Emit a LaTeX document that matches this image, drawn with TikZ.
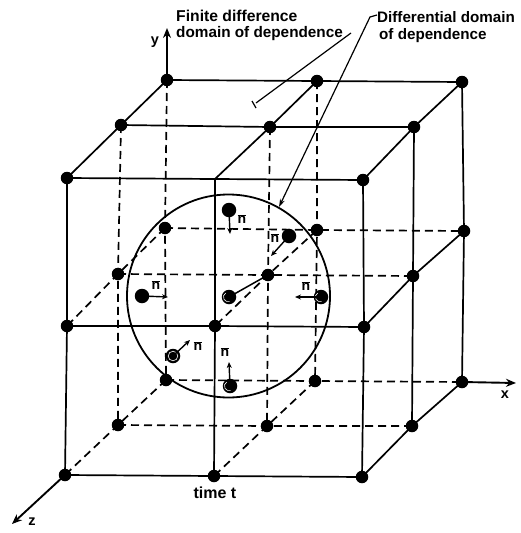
\documentclass[tikz,border=0pt]{standalone}
\usepackage{fontspec}
\setmainfont{Liberation Sans}
\usetikzlibrary{arrows.meta}
\newcommand{\nbar}{$\overline{\hbox{n}}$}
\tikzset{
  x=1pt,y=-1pt,
  gridline/.style={line width=1.7pt,line cap=round},
  hidden/.style={line width=1.7pt,dash pattern=on 8pt off 5pt},
  pointer/.style={line width=1.2pt},
  dot/.style={circle,fill=black,inner sep=0pt,minimum size=12.5pt},
  axis/.style={line width=1.9pt,-{Stealth[length=10pt,width=8pt]}},
  normal/.style={line width=1.4pt,-{Stealth[length=6pt,width=5pt]}},
  label/.style={font=\fontsize{14.5}{16.5}\selectfont\bfseries,inner sep=0pt},
  nlabel/.style={font=\fontsize{14}{14}\selectfont\bfseries,inner sep=0pt},
  ball/.style={circle,fill=black,inner sep=0pt,minimum size=14.5pt},
  ringball/.style={ball,path picture={\draw[white,line width=0.6pt] ([shift={(-1pt,0pt)}]path picture bounding box.center) ++(120:4.6pt) arc[start angle=120,end angle=290,radius=4.6pt];}},
  fullring/.style={ball,path picture={\draw[white,line width=0.6pt] (path picture bounding box.center) circle (4.8pt);}},
}
\begin{document}
\begin{tikzpicture}
\useasboundingbox (0,0) rectangle (520,533);
\fill[white] (0,0) rectangle (520,533);
% grid points: back b, middle m, front f
\foreach \n/\x/\y in {
 bta/167/80, btb/317/81, btc/462/82, bma/165/228, bmb/317/230, bmc/464/231, bba/166/380, bbb/315/381, bbc/462/382,
 mta/121/125, mtb/270/127, mtc/414/127, mma/118/274, mmb/268/275, mmc/413/276, mba/118/425, mbb/267/426, mbc/412/426,
 fta/67/178, ftc/363/180, fma/67/326, fmb/215/326, fmc/364/327, fba/65/475, fbb/214/476, fbc/362/477}
  {\node[dot] (\n) at (\x,\y) {};}
\coordinate (ftb) at (215,179);
% axis tips
\coordinate (ytip) at (167,28);
\coordinate (xtip) at (516,383);
\coordinate (ztip) at (12,524);
% solid lines
\draw[gridline] (bta.center)--(btb.center)--(btc.center);
\draw[gridline] (mta.center)--(mtb.center)--(mtc.center);
\draw[gridline] (fta.center)--(ftb)--(ftc.center);
\draw[gridline] (fma.center)--(fmb.center)--(fmc.center);
\draw[gridline] (fba.center)--(fbb.center)--(fbc.center);
\draw[gridline] (fta.center)--(fma.center)--(fba.center);
\draw[gridline] (ftb)--(fmb.center)--(fbb.center);
\draw[gridline] (ftc.center)--(fmc.center)--(fbc.center);
\draw[gridline] (mtc.center)--(mmc.center)--(mbc.center);
\draw[gridline] (btc.center)--(bmc.center)--(bbc.center);
\draw[gridline] (bta.center)--(mta.center)--(fta.center);
\draw[gridline] (btb.center)--(mtb.center)--(ftb);
\draw[gridline] (btc.center)--(mtc.center)--(ftc.center);
\draw[gridline] (bmc.center)--(mmc.center)--(fmc.center);
\draw[gridline] (bbc.center)--(mbc.center)--(fbc.center);
% hidden lines
\draw[hidden] (bta.center)--(bma.center)--(bba.center);
\draw[hidden] (btb.center)--(bmb.center)--(bbb.center);
\draw[hidden] (mta.center)--(mma.center)--(mba.center);
\draw[hidden] (mtb.center)--(mmb.center)--(mbb.center);
\draw[hidden] (bma.center)--(bmb.center)--(bmc.center);
\draw[hidden] (bba.center)--(bbb.center)--(bbc.center);
\draw[hidden] (mma.center)--(mmb.center)--(mmc.center);
\draw[hidden] (mba.center)--(mbb.center)--(mbc.center);
\draw[hidden] (bma.center)--(mma.center)--(fma.center);
\draw[hidden] (bmb.center)--(mmb.center)--(fmb.center);
\draw[hidden] (bba.center)--(mba.center)--(fba.center);
\draw[hidden] (bbb.center)--(mbb.center)--(fbb.center);
% axes
\draw[axis] (bta.center)--(ytip);
\draw[axis] (bbc.center)--(xtip);
\draw[axis] (fba.center)--(ztip);
\node[label] (ly) at (155,42) {y};
\node[label] (lx) at (505,395) {x};
\node[label] (lz) at (32,522) {z};
% circle
\node[circle,draw,line width=1.8pt,inner sep=0pt,minimum size=203pt] (domain) at (228.5,296) {};
% balls and normals
\node[ball] (b1) at (229,210) {};
\coordinate (e1) at (230,234);
\draw[normal] (b1.center)--(e1);
\node[nlabel] (n1) at (242,219) {\nbar};
\node[ball] (b2) at (289,236) {};
\coordinate (e2) at (271,256);
\draw[normal] (b2.center)--(e2);
\node[nlabel] (n2) at (275,238) {\nbar};
\node[ball] (b3) at (142,296) {};
\coordinate (e3) at (168,297);
\draw[normal] (b3.center)--(e3);
\node[nlabel] (n3) at (156,285) {\nbar};
\node[ringball] (b4) at (229,297) {};
\draw[line width=1.5pt] (b4.center)--(mmb.center);
\node[ringball] (b5) at (321,297) {};
\coordinate (e5) at (295,297);
\draw[normal] (b5.center)--(e5);
\node[nlabel] (n5) at (306,286) {\nbar};
\node[fullring] (b6) at (173,356) {};
\coordinate (e6) at (190,340);
\draw[normal] (b6.center)--(e6);
\node[nlabel] (n6) at (198,346) {\nbar};
\node[ringball] (b7) at (230,386) {};
\coordinate (e7) at (229,362);
\draw[normal] (b7.center)--(e7);
\node[nlabel] (n7) at (225,352) {\nbar};
% text
\node[label,align=left,anchor=north west] (fd) at (176,9.5) {{\fontsize{15.7}{16.5}\selectfont Finite difference}\\{\fontsize{15.3}{16.5}\selectfont domain of dependence}};
\node[label,align=left,anchor=north west] (dd) at (377,11.5) {{\fontsize{15.2}{16.5}\selectfont Differential domain}\\\hspace{2pt}{\fontsize{15.2}{16.5}\selectfont of dependence}};
\node[label,font=\fontsize{16}{17}\selectfont\bfseries] (tt) at (215,493) {time t};
% pointers
\coordinate (fdstart) at (351,33);
\coordinate (fdend) at (256,103);
\coordinate (fda) at (252,101);
\coordinate (fdb) at (256,108);
\draw[pointer] (fdstart)--(fdend);
\draw[pointer] (fda)--(fdb);
\coordinate (ddstart) at (377,15);
\coordinate (ddmid) at (370,17);
\coordinate (ddtip) at (279,207);
\draw[pointer,-{Stealth[length=8pt,width=5pt]}] (ddstart)--(ddmid)--(ddtip);
\end{tikzpicture}
\end{document}
